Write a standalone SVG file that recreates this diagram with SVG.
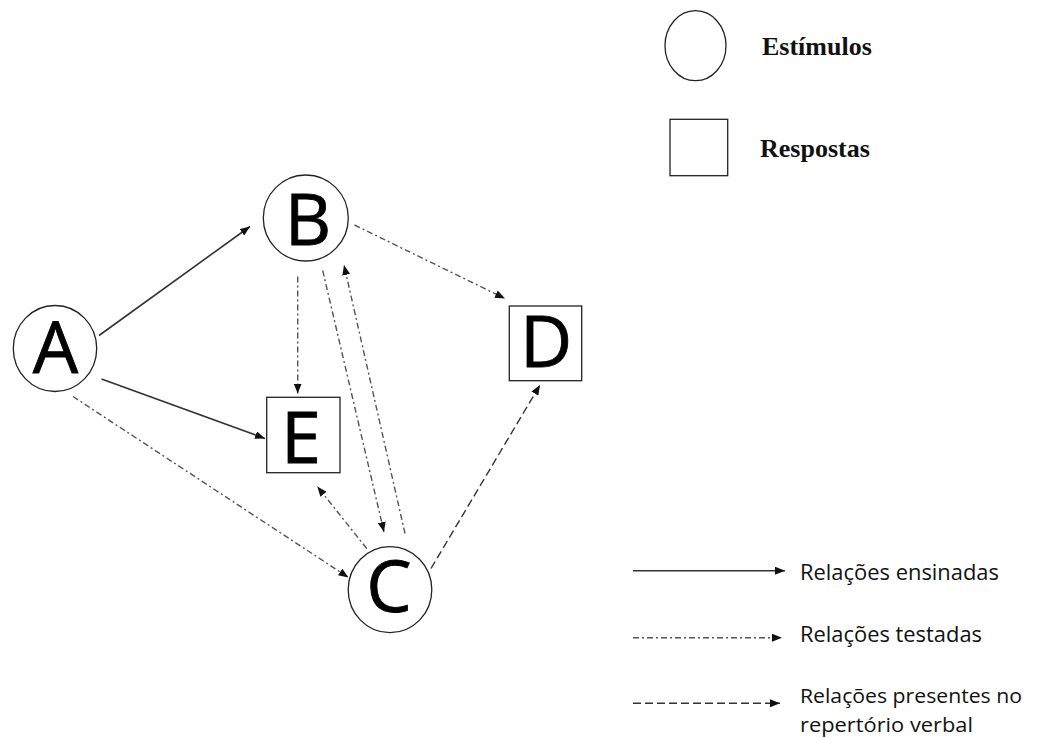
<svg xmlns="http://www.w3.org/2000/svg" width="1037" height="738" viewBox="0 0 1037 738">
<style>
.node{fill:#fff;stroke:#222;stroke-width:1.3}
.lbl{font-family:"Open Sans","Liberation Sans",sans-serif;font-size:72px;fill:#000;text-anchor:middle;stroke:#000;stroke-width:0.8}
.solid{stroke:#333;stroke-width:1.6;fill:none}
.dd{stroke:#555;stroke-width:1.4;fill:none;stroke-dasharray:6 3 2 3}
.dash{stroke:#333;stroke-width:1.4;fill:none;stroke-dasharray:8 4}
.leg{font-family:"Open Sans","Liberation Sans",sans-serif;font-size:21px;fill:#111}
.leg2{font-family:"Open Sans","Liberation Sans",sans-serif;font-size:20.5px;fill:#111}
.legs{font-family:"Liberation Serif","Times New Roman",serif;font-size:26px;font-weight:bold;fill:#111}
</style>
<defs>
<marker id="ah" viewBox="0 0 10 8" refX="10" refY="4" markerWidth="10" markerHeight="8" markerUnits="userSpaceOnUse" orient="auto">
<path d="M0,0 L10,4 L0,8 Z" fill="#111"/>
</marker>
</defs>
<rect width="1037" height="738" fill="#fff"/>
<g id="connectors">
<line class="solid" x1="99" y1="335.5" x2="250" y2="226.5" marker-end="url(#ah)"/>
<line class="solid" x1="101.5" y1="379" x2="265" y2="438.5" marker-end="url(#ah)"/>
<line class="dd" x1="73" y1="396.5" x2="348.5" y2="577.5" marker-end="url(#ah)"/>
<line class="dd" x1="297.7" y1="276.5" x2="297.7" y2="393.5" marker-end="url(#ah)"/>
<line class="dd" x1="322.7" y1="270.5" x2="384" y2="532" marker-end="url(#ah)"/>
<line class="dd" x1="405" y1="533.5" x2="344" y2="265" marker-end="url(#ah)"/>
<line class="dd" x1="366.7" y1="548.5" x2="317.3" y2="486.5" marker-end="url(#ah)"/>
<line class="dd" x1="354.5" y1="225" x2="505" y2="298.5" marker-end="url(#ah)"/>
<line class="dash" x1="431" y1="568.5" x2="540" y2="385" marker-end="url(#ah)"/>
</g>
<g id="node-A">
<ellipse class="node" cx="55" cy="348.5" rx="41.7" ry="43"/>
<text class="lbl" x="55.5" y="373">A</text>
</g>
<g id="node-B">
<ellipse class="node" cx="305.8" cy="218" rx="42.5" ry="43"/>
<text class="lbl" x="308" y="245">B</text>
</g>
<g id="node-C">
<ellipse class="node" cx="390" cy="589.7" rx="41.8" ry="43"/>
<text class="lbl" x="389" y="612">C</text>
</g>
<g id="node-E">
<rect class="node" x="266.7" y="397.3" width="73.3" height="75.4"/>
<text class="lbl" x="301" y="462.7">E</text>
</g>
<g id="node-D">
<rect class="node" x="509.3" y="306" width="72.4" height="74.7"/>
<text class="lbl" x="546" y="366.7">D</text>
</g>
<g id="legend-shapes">
<ellipse class="node" cx="695.5" cy="45.7" rx="30.5" ry="35"/>
<text class="legs" x="762" y="55">Estímulos</text>
<rect class="node" x="670" y="119.3" width="57.7" height="56.4"/>
<text class="legs" x="760" y="157">Respostas</text>
</g>
<g id="legend-lines">
<line class="solid" x1="633" y1="570.7" x2="785" y2="570.7" marker-end="url(#ah)"/>
<text class="leg" x="800" y="580" textLength="199" lengthAdjust="spacingAndGlyphs">Relações ensinadas</text>
<line class="dd" x1="633" y1="637.7" x2="782" y2="637.7" marker-end="url(#ah)"/>
<text class="leg" x="800" y="642" textLength="182" lengthAdjust="spacingAndGlyphs">Relações testadas</text>
<line class="dash" x1="633" y1="703.3" x2="780" y2="703.3" marker-end="url(#ah)"/>
<text class="leg2" x="800" y="703" textLength="222" lengthAdjust="spacingAndGlyphs">Relações presentes no</text>
<text class="leg2" x="800" y="731.5" textLength="173" lengthAdjust="spacingAndGlyphs">repertório verbal</text>
</g>
</svg>
